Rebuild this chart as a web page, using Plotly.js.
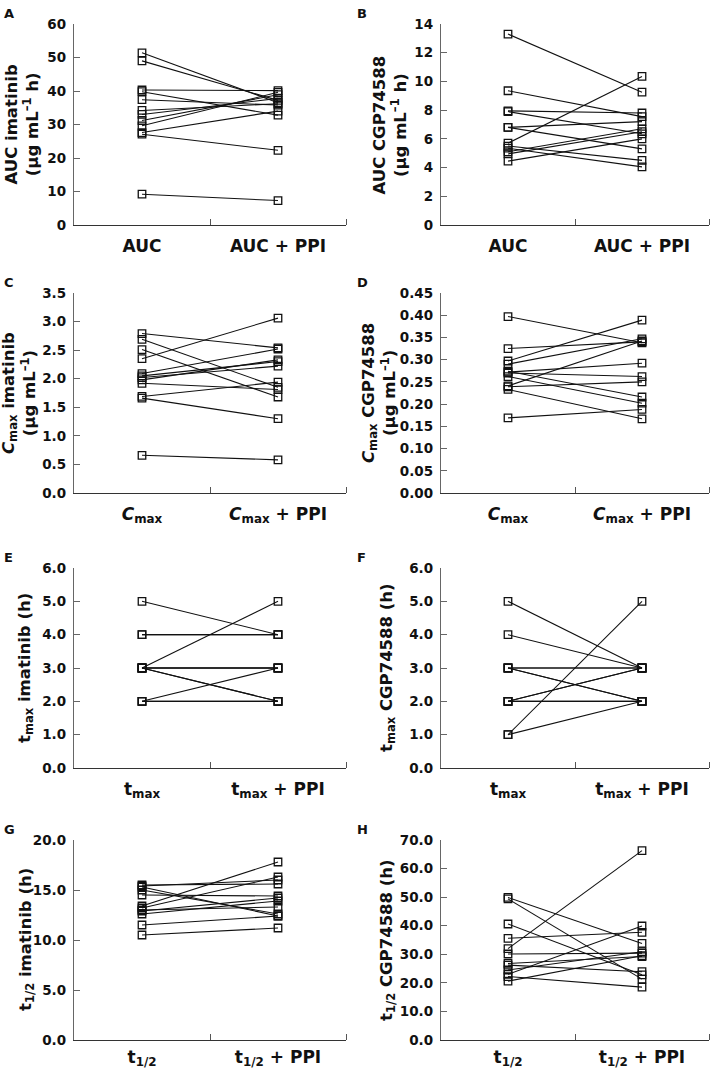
<!DOCTYPE html>
<html>
<head>
<meta charset="utf-8">
<script src="https://cdn.plot.ly/plotly-3.0.1.min.js"></script>
<style>html,body{margin:0;padding:0;background:#fff;}#chart{width:712px;height:1072px;}</style>
</head>
<body>
<div id="chart"></div>
<script>
// ---- Data ----
const aucImaPre  = [51.4, 49.0, 40.3, 39.8, 37.4, 34.2, 33.0, 31.2, 29.6, 27.6, 27.1, 9.2];
const aucImaPost = [36.5, 37.2, 40.1, 32.8, 35.8, 36.2, 37.8, 38.9, 39.6, 34.0, 22.3, 7.3];

const aucCgpPre  = [13.3, 9.35, 7.95, 7.9, 6.8, 6.8, 5.7, 5.5, 5.35, 5.1, 4.95, 4.45];
const aucCgpPost = [9.25, 7.55, 7.8, 6.35, 7.2, 5.3, 10.35, 4.5, 4.05, 6.7, 6.5, 6.0];

const cmaxImaPre  = [2.79, 2.69, 2.51, 2.35, 2.09, 2.05, 2.02, 1.98, 1.92, 1.69, 1.66, 0.66];
const cmaxImaPost = [2.54, 1.85, 1.68, 3.06, 2.52, 2.30, 2.22, 2.33, 1.81, 1.94, 1.30, 0.58];

const cmaxCgpPre  = [0.397, 0.325, 0.297, 0.290, 0.272, 0.270, 0.274, 0.262, 0.241, 0.239, 0.233, 0.169];
const cmaxCgpPost = [0.338, 0.340, 0.389, 0.347, 0.292, 0.262, 0.216, 0.202, 0.342, 0.250, 0.167, 0.188];

const tmaxImaPre  = [5, 4, 4, 3, 3, 3, 3, 3, 2, 2, 2, 3];
const tmaxImaPost = [4, 4, 4, 5, 3, 3, 2, 2, 3, 2, 2, 3];

const tmaxCgpPre  = [5, 4, 3, 3, 2, 2, 1, 1, 3, 2, 3, 2];
const tmaxCgpPost = [3, 3, 3, 2, 3, 2, 5, 2, 3, 2, 2, 3];

const thalfImaPre  = [15.5, 15.3, 15.0, 14.5, 13.4, 13.2, 13.0, 12.9, 12.6, 11.5, 10.5, 15.4];
const thalfImaPost = [15.6, 12.4, 12.6, 14.4, 17.8, 16.3, 13.3, 14.2, 13.9, 12.4, 11.2, 16.0];

const thalfCgpPre  = [49.9, 49.4, 40.6, 35.6, 32.0, 30.1, 26.8, 26.2, 24.5, 23.0, 22.2, 20.6];
const thalfCgpPost = [33.8, 21.3, 22.8, 37.7, 66.3, 30.4, 29.2, 23.9, 30.9, 39.9, 18.5, 29.5];

const catAUC   = ["AUC", "AUC + PPI"];
const catCmax  = ["<i>C</i><sub>max</sub>", "<i>C</i><sub>max</sub> + PPI"];
const catTmax  = ["t<sub>max</sub>", "t<sub>max</sub> + PPI"];
const catThalf = ["t<sub>1/2</sub>", "t<sub>1/2</sub> + PPI"];

const panelLetters = ["A", "B", "C", "D", "E", "F", "G", "H"];
const yTitles = [
  "AUC imatinib<br>(μg mL<sup>–1</sup> h)",
  "AUC CGP74588<br>(μg mL<sup>–1</sup> h)",
  "<i>C</i><sub>max</sub> imatinib<br>(μg mL<sup>–1</sup>)",
  "<i>C</i><sub>max</sub> CGP74588<br>(μg mL<sup>–1</sup>)",
  "t<sub>max</sub> imatinib (h)",
  "t<sub>max</sub> CGP74588 (h)",
  "t<sub>1/2</sub> imatinib (h)",
  "t<sub>1/2</sub> CGP74588 (h)"
];

// ---- Panels ----
const panels = [
  {pre: aucImaPre,   post: aucImaPost,   cats: catAUC,   range: [0, 60],   dtick: 10,   fmt: "d"},
  {pre: aucCgpPre,   post: aucCgpPost,   cats: catAUC,   range: [0, 14],   dtick: 2,    fmt: "d"},
  {pre: cmaxImaPre,  post: cmaxImaPost,  cats: catCmax,  range: [0, 3.5],  dtick: 0.5,  fmt: ".1f"},
  {pre: cmaxCgpPre,  post: cmaxCgpPost,  cats: catCmax,  range: [0, 0.45], dtick: 0.05, fmt: ".2f"},
  {pre: tmaxImaPre,  post: tmaxImaPost,  cats: catTmax,  range: [0, 6],    dtick: 1,    fmt: ".1f"},
  {pre: tmaxCgpPre,  post: tmaxCgpPost,  cats: catTmax,  range: [0, 6],    dtick: 1,    fmt: ".1f"},
  {pre: thalfImaPre, post: thalfImaPost, cats: catThalf, range: [0, 20],   dtick: 5,    fmt: ".1f"},
  {pre: thalfCgpPre, post: thalfCgpPost, cats: catThalf, range: [0, 70],   dtick: 10,   fmt: ".1f"}
];

const W = 712, H = 1072;
const colPx = [[74, 346], [441, 709]];
const rowPx = [[24, 225], [293, 493], [568, 768], [840, 1040]];
// horizontal centre (px) of each y-axis title
const titleX = [22, 390, 19, 379, 25, 387, 26, 387];
const FONT = "'DejaVu Sans', 'Open Sans', sans-serif";

const traces = [];
const layout = {
  width: W, height: H,
  margin: {l: 0, r: 0, t: 0, b: 0},
  paper_bgcolor: "#fff", plot_bgcolor: "#fff",
  showlegend: false,
  font: {family: FONT, color: "#111", weight: 700},
  annotations: []
};

panels.forEach((p, k) => {
  const col = k % 2, row = Math.floor(k / 2);
  const n = k + 1;
  const xa = "x" + (n === 1 ? "" : n), ya = "y" + (n === 1 ? "" : n);
  const xKey = "xaxis" + (n === 1 ? "" : n), yKey = "yaxis" + (n === 1 ? "" : n);
  for (let i = 0; i < p.pre.length; i++) {
    traces.push({
      type: "scatter", mode: "lines+markers",
      x: [0, 1], y: [p.pre[i], p.post[i]],
      xaxis: xa, yaxis: ya,
      line: {color: "#111", width: 1.1},
      marker: {symbol: "square-open", size: 7.5, color: "#111", line: {width: 1.3, color: "#111"}},
      hoverinfo: "y"
    });
  }
  const xd = [colPx[col][0] / W, colPx[col][1] / W];
  const yd = [1 - rowPx[row][1] / H, 1 - rowPx[row][0] / H];
  layout[xKey] = {
    domain: xd, anchor: ya, range: [-0.5, 1.5],
    tickmode: "array", tickvals: [0, 1], ticktext: p.cats,
    ticks: "", showgrid: false, zeroline: false,
    showline: true, linecolor: "#333", linewidth: 1.2,
    tickfont: {size: 17, family: FONT, weight: 700, color: "#111"},
    ticklabelstandoff: row === 3 ? 1 : 5,
    minor: {tickmode: "array", tickvals: [0.5, 1.5], ticks: "inside", ticklen: 6, tickcolor: "#555", tickwidth: 1, showgrid: false},
    fixedrange: true
  };
  layout[yKey] = {
    domain: yd, anchor: xa, range: p.range,
    tick0: 0, dtick: p.dtick, tickformat: p.fmt,
    ticks: "inside", ticklen: 6, tickcolor: "#666", tickwidth: 1,
    showgrid: false, zeroline: false,
    showline: true, linecolor: "#666", linewidth: 1.2,
    tickfont: {size: 13.5, family: FONT, weight: 700, color: "#111"},
    ticklabelstandoff: 4,
    fixedrange: true
  };
  // y-axis title (rotated text)
  layout.annotations.push({
    text: yTitles[k], xref: "paper", yref: "paper",
    x: titleX[k] / W, y: (yd[0] + yd[1]) / 2,
    xanchor: "center", yanchor: "middle", textangle: -90, showarrow: false,
    font: {size: 16.5, family: FONT, weight: 700, color: "#111"}
  });
  // panel letter
  layout.annotations.push({
    text: panelLetters[k], xref: "paper", yref: "paper",
    x: (col === 0 ? 2 : 355) / W, y: 1 - (rowPx[row][0] - 20) / H,
    xanchor: "left", yanchor: "top", showarrow: false,
    font: {size: 13, family: FONT, weight: 700, color: "#111"}
  });
});

Plotly.newPlot("chart", traces, layout, {displayModeBar: false, staticPlot: true});
</script>
</body>
</html>
